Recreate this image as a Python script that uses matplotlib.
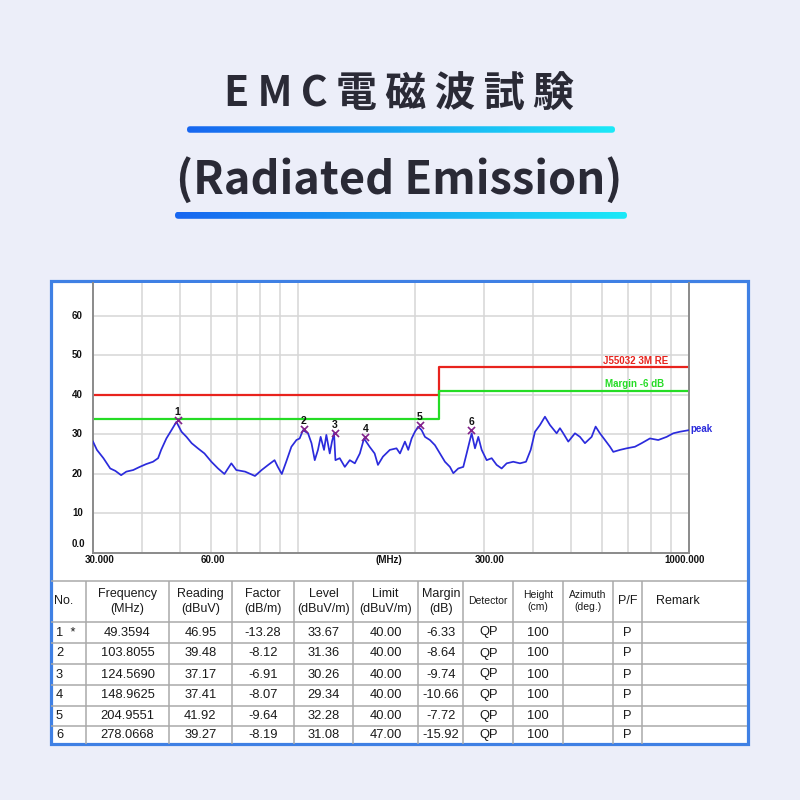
import numpy as np
import matplotlib
matplotlib.use("Agg")
import matplotlib.pyplot as plt
from matplotlib.patches import FancyBboxPatch, Rectangle
from matplotlib.colors import LinearSegmentedColormap
from matplotlib.ticker import NullLocator
import matplotlib.transforms as mtransforms

# ---------------- data ----------------
title_main = "EMC電磁波試験"
title_sub = "(Radiated Emission)"

trace_freq = [30.0, 30.7, 31.9, 33.2, 34.2, 35.4, 36.5, 38.0, 39.5, 41.0, 42.7, 44.0, 44.8,
              46.2, 47.6, 49.0, 50.5, 52.0, 53.6, 55.6, 57.8, 60.2, 62.6, 65.0, 67.7, 69.7,
              73.4, 77.8, 80.9, 84.1, 87.3, 89.0, 91.1, 93.5, 96.4, 99.3, 101.2, 103.2, 106.3,
              108.5, 110.6, 112.7, 114.5, 116.8, 118.4, 120.8, 122.4, 123.9, 124.9, 128.1,
              132.0, 135.9, 140.0, 144.2, 147.8, 152.7, 157.3, 160.4, 165.2, 172.0, 178.9,
              182.6, 188.0, 191.7, 195.6, 199.4, 203.3, 207.4, 211.5, 217.8, 224.3, 231.0,
              237.9, 245.0, 249.9, 257.3, 265.0, 270.3, 275.6, 278.4, 283.9, 289.5, 295.3,
              304.1, 313.2, 322.5, 332.1, 342.1, 355.6, 370.0, 383.3, 394.0, 404.1, 416.1,
              428.5, 441.3, 459.0, 468.0, 477.2, 491.5, 511.2, 526.5, 542.2, 563.9, 577.3,
              592.1, 610.0, 628.2, 640.5, 666.2, 693.0, 727.6, 756.8, 794.7, 834.4, 876.8,
              911.4, 948.0, 1000.0]
trace_level = [28.2, 26.1, 24.0, 21.4, 20.8, 19.7, 20.6, 21.0, 21.8, 22.5, 23.1, 24.0, 26.1,
               29.0, 31.1, 33.2, 30.7, 29.4, 27.8, 26.5, 25.2, 23.1, 21.4, 20.0, 22.7, 21.0,
               20.6, 19.5, 21.0, 22.3, 23.5, 21.8, 20.0, 23.1, 26.9, 28.6, 29.0, 31.1, 30.3,
               27.8, 23.5, 26.1, 29.4, 26.1, 29.9, 25.2, 28.2, 30.3, 23.5, 24.0,
               21.8, 23.5, 22.7, 25.2, 29.0, 26.9, 25.2, 22.3, 24.4, 26.1, 26.5,
               25.2, 28.2, 26.1, 29.0, 30.7, 32.0, 31.1, 29.4, 28.6, 27.3, 25.2,
               23.1, 21.8, 20.2, 21.4, 21.8, 25.2, 28.6, 30.3, 26.5, 29.4, 26.1,
               23.5, 24.0, 22.3, 21.4, 22.7, 23.1, 22.7, 23.1, 26.1, 30.7, 32.4,
               34.5, 32.4, 30.3, 31.6, 30.3, 28.2, 30.3, 29.4, 27.8, 29.4, 32.0,
               30.3, 28.6, 26.9, 25.6, 26.1, 26.5, 26.9, 27.8, 29.0, 28.6, 29.4,
               30.3, 30.7, 31.1]

limit_freq = [30, 230, 230, 1000]
limit_level = [40, 40, 47, 47]
margin_offset = 6
limit_name = "J55032 3M RE"
margin_name = "Margin -6 dB"

y_ticks = [0, 10, 20, 30, 40, 50, 60]
y_tick_labels = ["0.0", "10", "20", "30", "40", "50", "60"]
x_ticks = [30, 60, 300, 1000]
x_tick_labels = ["30.000", "60.00", "300.00", "1000.000"]
x_unit = "(MHz)"
grid_freqs = [40, 50, 60, 70, 80, 90, 100, 200, 300, 400, 500, 600, 700, 800, 900]

marker_no = [1, 2, 3, 4, 5, 6]
no_labels = ["1  *", "2", "3", "4", "5", "6"]
frequency = [49.3594, 103.8055, 124.5690, 148.9625, 204.9551, 278.0668]
reading = [46.95, 39.48, 37.17, 37.41, 41.92, 39.27]
factor = [-13.28, -8.12, -6.91, -8.07, -9.64, -8.19]
level = [33.67, 31.36, 30.26, 29.34, 32.28, 31.08]
limit = [40.00, 40.00, 40.00, 40.00, 40.00, 47.00]
margin = [-6.33, -8.64, -9.74, -10.66, -7.72, -15.92]
detector = ["QP"] * 6
height = [100] * 6
azimuth = [""] * 6
pass_fail = ["P"] * 6
remark = [""] * 6

headers = ["No.", "Frequency\n(MHz)", "Reading\n(dBuV)", "Factor\n(dB/m)", "Level\n(dBuV/m)",
           "Limit\n(dBuV/m)", "Margin\n(dB)", "Detector", "Height\n(cm)", "Azimuth\n(deg.)",
           "P/F", "Remark"]

# ---------------- figure ----------------
W = H = 800
fig = plt.figure(figsize=(8, 8), dpi=100)
fig.patch.set_facecolor("#eceef9")

bg = fig.add_axes([0, 0, 1, 1], zorder=0)
bg.set_axis_off()

CJK = ["Noto Sans CJK JP", "DejaVu Sans"]
TXT = "#2a2a36"

thin = "\u2009"
bg.text(399, 107, thin.join(title_main), family=CJK, fontweight="bold", fontsize=29.5,
        color=TXT, ha="center", va="baseline")
bg.text(399, 194, title_sub, family=CJK, fontweight="bold", fontsize=32.5,
        color=TXT, ha="center", va="baseline")

cmap = LinearSegmentedColormap.from_list("g", ["#1766f0", "#1aa6f4", "#1ce9f8"])


def grad_bar(x0, x1, yc, h):
    grad = np.linspace(0, 1, 256).reshape(1, -1)
    im = bg.imshow(grad, cmap=cmap, extent=(x0, x1, yc + h / 2, yc - h / 2),
                   aspect="auto", zorder=2, interpolation="bicubic")
    patch = FancyBboxPatch((x0, yc - h / 2), x1 - x0, h,
                           boxstyle=f"round,pad=0,rounding_size={h / 2}",
                           transform=bg.transData, fc="none", ec="none")
    bg.add_patch(patch)
    im.set_clip_path(patch)


grad_bar(187, 615, 129.5, 6.5)
grad_bar(175, 627, 215.3, 7)

# white box with blue border
bg.add_patch(Rectangle((50.5, 281), 697, 462.5, fc="white", ec="#3f80e4", lw=2.3, zorder=1))

# ---------------- table ----------------
col_x = [51, 86, 169, 231.7, 294, 353, 418.3, 463.3, 513.3, 563.3, 612.7, 642.3, 747]
row_y = [581, 622, 643, 664, 685, 705.5, 726, 744]
LC = "#a9a9a9"
for y in row_y[:-1]:
    bg.plot([51, 747], [y, y], color=LC, lw=1.1, zorder=3, solid_capstyle="butt")
for x in col_x[1:-1]:
    bg.plot([x, x], [row_y[0], row_y[-1]], color=LC, lw=1.1, zorder=3, solid_capstyle="butt")

TF = "Liberation Sans"
hy = (row_y[0] + row_y[1]) / 2
small_headers = {"Detector", "Height\n(cm)", "Azimuth\n(deg.)"}
for i, htxt in enumerate(headers):
    fs = 7.5 if htxt in small_headers else 9
    if i == 0:
        bg.text(54, hy, htxt, family=TF, fontsize=fs, ha="left", va="center", color="#1a1a1a", zorder=4)
    elif htxt == "Remark":
        bg.text(656, hy, htxt, family=TF, fontsize=fs, ha="left", va="center", color="#1a1a1a", zorder=4)
    else:
        cx = (col_x[i] + col_x[i + 1]) / 2
        bg.text(cx, hy, htxt, family=TF, fontsize=fs, ha="center", va="center",
                linespacing=1.25, color="#1a1a1a", zorder=4)

for r in range(len(marker_no)):
    cy = (row_y[r + 1] + row_y[r + 2]) / 2
    cells = [no_labels[r], f"{frequency[r]:.4f}", f"{reading[r]:.2f}", f"{factor[r]:.2f}",
             f"{level[r]:.2f}", f"{limit[r]:.2f}", f"{margin[r]:.2f}", detector[r],
             f"{height[r]}", azimuth[r], pass_fail[r], remark[r]]
    for i, c in enumerate(cells):
        if not c:
            continue
        if i == 0:
            bg.text(56, cy, c, family=TF, fontsize=9.3, ha="left", va="center", color="#1a1a1a", zorder=4)
        else:
            cx = (col_x[i] + col_x[i + 1]) / 2
            bg.text(cx, cy, c, family=TF, fontsize=9.3, ha="center", va="center", color="#1a1a1a", zorder=4)

bg.set_xlim(0, W)
bg.set_ylim(H, 0)

# ---------------- spectrum plot ----------------
L, R, T, B = 93, 689, 283, 553
ax = fig.add_axes([L / W, 1 - B / H, (R - L) / W, (B - T) / H], zorder=2)
ax.set_facecolor("white")
ax.set_xscale("log")
ax.set_xlim(30, 1000)
ax.set_ylim(0, 68.35)
ax.xaxis.set_major_locator(NullLocator())
ax.xaxis.set_minor_locator(NullLocator())
ax.yaxis.set_major_locator(NullLocator())
for s in ["left", "bottom", "right"]:
    ax.spines[s].set_color("#8a8a8a")
    ax.spines[s].set_linewidth(1.4)
ax.spines["top"].set_visible(False)

GC = "#d6d6d6"
ax.vlines(grid_freqs, 0, 68.35, color=GC, lw=1.1, zorder=0)
ax.hlines(y_ticks[1:], 30, 1000, color=GC, lw=1.1, zorder=0)

# limit and margin lines
ax.plot(limit_freq, limit_level, color="#e8231d", lw=1.6, zorder=2)
ax.plot(limit_freq, [v - margin_offset for v in limit_level], color="#25dc25", lw=1.6, zorder=2)

# trace
ax.plot(trace_freq, trace_level, color="#2b2bdc", lw=1.25, zorder=3)

# markers
ax.scatter(frequency, level, marker="x", s=26, color="#82218a", lw=1.2, zorder=4)
for n, f, lv in zip(marker_no, frequency, level):
    ax.annotate(str(n), (f, lv), xytext=(0, 2.5), textcoords="offset points",
                ha="center", va="bottom", fontsize=7.5, fontweight="bold",
                family="Liberation Sans", color="#111111", zorder=5)

CF = "Liberation Sans"
# limit labels
ax.text(0.8557, 48.7, limit_name, transform=ax.get_yaxis_transform(), color="#e8231d",
        fontsize=7, fontweight="bold", family=CF, ha="left", va="center")
ax.text(0.8590, 42.8, margin_name, transform=ax.get_yaxis_transform(), color="#25dc25",
        fontsize=7, fontweight="bold", family=CF, ha="left", va="center")
ax.annotate("peak", (trace_freq[-1], trace_level[-1]), xytext=(1, 0.5), textcoords="offset points",
            ha="left", va="center", fontsize=7, fontweight="bold", family=CF,
            color="#2b2bdc", annotation_clip=False)

# y tick labels
for v, lab in zip(y_ticks, y_tick_labels):
    dy = 6.5 if v == 0 else 0
    tr = mtransforms.offset_copy(ax.get_yaxis_transform(), fig=fig, x=0, y=dy, units="points")
    ax.text(-0.0352, v, lab, transform=tr, ha="left", va="center", fontsize=7,
            fontweight="bold", family=CF, color="#111111")

# x tick labels
x_offsets = [4.5, 1.5, 4.0, -3.0]
for v, lab, dx in zip(x_ticks, x_tick_labels, x_offsets):
    tr = mtransforms.offset_copy(ax.get_xaxis_transform(), fig=fig, x=dx, y=-5, units="points")
    ax.text(v, 0, lab, transform=tr, ha="center", va="center", fontsize=7,
            fontweight="bold", family=CF, color="#111111")
ax.text(0.4966, -0.026, x_unit, transform=ax.transAxes, ha="center", va="center", fontsize=7,
        fontweight="bold", family=CF, color="#111111")

fig.savefig("out.png", dpi=100, facecolor=fig.get_facecolor())
